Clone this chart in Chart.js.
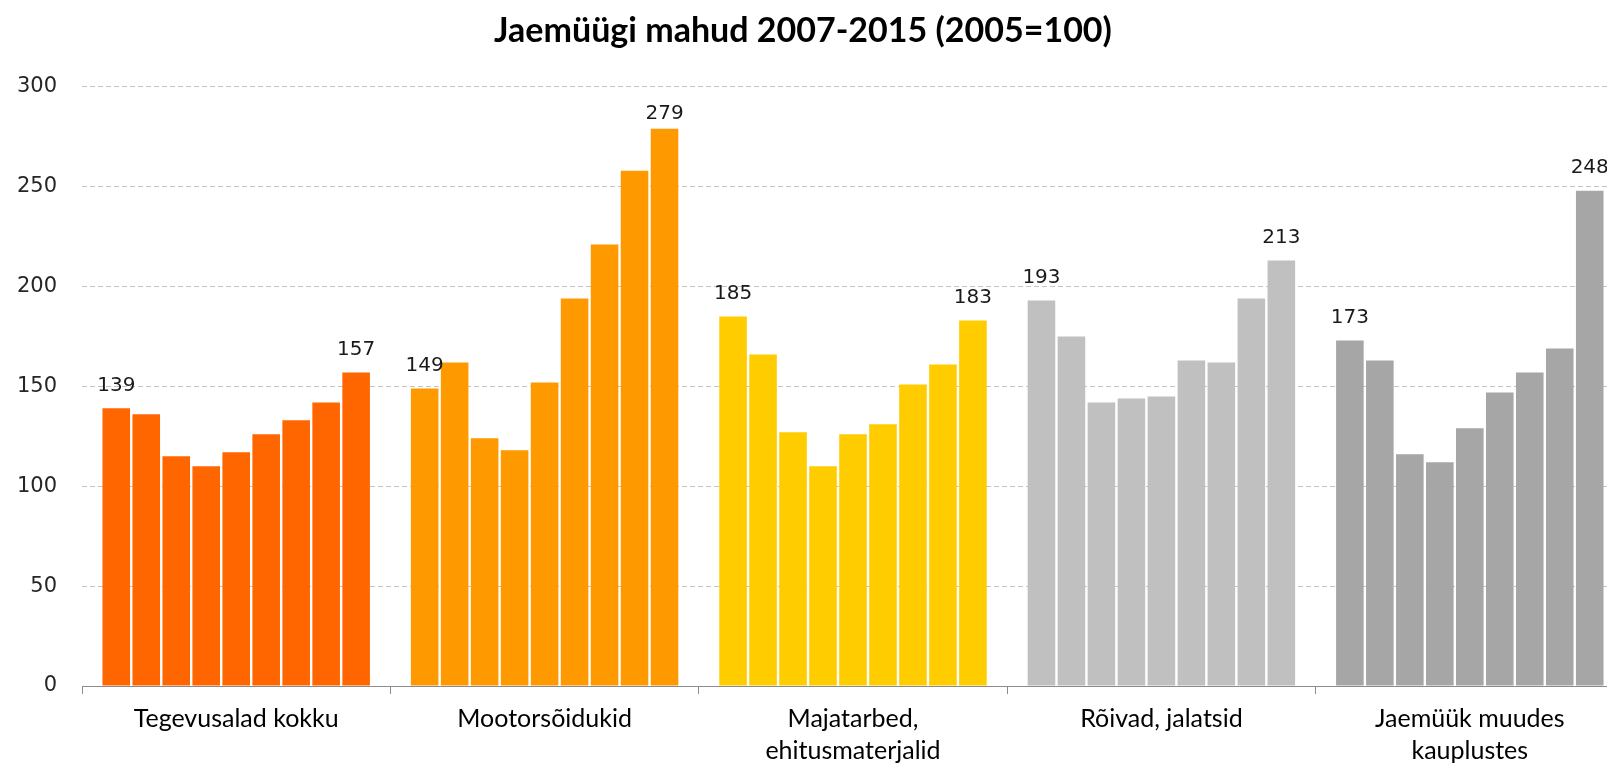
<!DOCTYPE html>
<html lang="et">
<head>
<meta charset="utf-8">
<title>Jaemüügi mahud 2007-2015</title>
<script src="https://cdn.jsdelivr.net/npm/chart.js@4/dist/chart.umd.min.js"></script>
<style>
  html, body { margin: 0; padding: 0; background: #fff; overflow: hidden; }
  .joonis { position: relative; width: 1626px; height: 763px; }
</style>
</head>
<body>
<div class="joonis"><canvas id="jaemyyk"></canvas></div>
<script>
const kategooriad = [
  "Tegevusalad kokku",
  "Mootorsõidukid",
  ["Majatarbed,", "ehitusmaterjalid"],
  "Rõivad, jalatsid",
  ["Jaemüük muudes", "kauplustes"]
];
const aastad = ["2007", "2008", "2009", "2010", "2011", "2012", "2013", "2014", "2015"];

// indeksid aastate kaupa (2005=100)
const tegevusaladKokku = [139, 136, 115, 110, 117, 126, 133, 142, 157];
const mootorsoidukid = [149, 162, 124, 118, 152, 194, 221, 258, 279];
const majatarbed = [185, 166, 127, 110, 126, 131, 151, 161, 183];
const roivadJalatsid = [193, 175, 142, 144, 145, 163, 162, 194, 213];
const muudKauplused = [173, 163, 116, 112, 129, 147, 157, 169, 248];

const varvid = ["#ff6600", "#ff9900", "#ffcc00", "#c0c0c0", "#a6a6a6"];
const yTicks = [0, 50, 100, 150, 200, 250, 300];

const read = [tegevusaladKokku, mootorsoidukid, majatarbed, roivadJalatsid, muudKauplused];

const andmestikud = aastad.map((aasta, i) => ({
  label: aasta,
  data: read.map((rida) => rida[i]),
  backgroundColor: varvid,
  borderWidth: 0,
  barPercentage: 0.92,
  categoryPercentage: 0.875
}));

// väärtused esimese ja viimase aasta tulba kohal
const vaartusedPlugin = {
  id: "vaartused",
  afterDatasetsDraw(chart) {
    const ctx = chart.ctx;
    ctx.save();
    ctx.font = "20px 'DejaVu Sans'";
    ctx.fillStyle = "#1a1a1a";
    ctx.textAlign = "center";
    ctx.textBaseline = "bottom";
    [0, aastad.length - 1].forEach((di) => {
      chart.getDatasetMeta(di).data.forEach((tulp, i) => {
        const y = Math.max(tulp.y - 13, chart.chartArea.top + 37);
        ctx.fillText(chart.data.datasets[di].data[i], tulp.x, y);
      });
    });
    ctx.restore();
  }
};

new Chart(document.getElementById("jaemyyk"), {
  type: "bar",
  data: { labels: kategooriad, datasets: andmestikud },
  plugins: [vaartusedPlugin],
  options: {
    responsive: true,
    maintainAspectRatio: false,
    animation: false,
    // lõuend on laiem kui aken, et viimane kategooria jääks nagu originaalis poolikuks
    layout: { padding: { left: -18, right: 2, top: 0, bottom: 0 } },
    plugins: {
      legend: { display: false },
      tooltip: { enabled: false },
      title: {
        display: true,
        text: "Jaemüügi mahud 2007-2015 (2005=100)",
        color: "#000",
        font: { family: "Lato", size: 34, weight: "bold", lineHeight: 1.2 },
        padding: { top: 11, bottom: 35 }
      }
    },
    scales: {
      x: {
        grid: {
          offset: true,
          drawOnChartArea: false,
          drawTicks: true,
          tickLength: 8,
          color: "#8c8c8c"
        },
        border: { display: true, color: "#8c8c8c", width: 1 },
        ticks: {
          color: "#000",
          padding: 9,
          maxRotation: 0,
          autoSkip: false,
          font: { family: "Lato", size: 25, lineHeight: 1.28 }
        },
        afterFit(scale) { scale.height = 77; }
      },
      y: {
        min: 0,
        max: 300,
        afterBuildTicks(scale) { scale.ticks = yTicks.map((v) => ({ value: v })); },
        grid: {
          color: "#c4c4c4",
          drawTicks: false,
          lineWidth: 1
        },
        border: { display: false, dash: [5, 3] },
        ticks: {
          color: "#262626",
          padding: 25,
          font: { family: "'DejaVu Sans'", size: 21 }
        },
        afterFit(scale) { scale.width = 100; }
      }
    }
  }
});
</script>
</body>
</html>
